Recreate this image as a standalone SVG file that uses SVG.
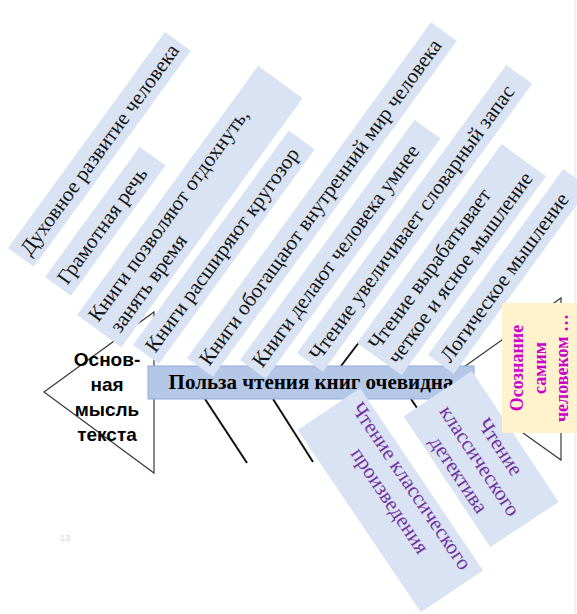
<svg xmlns="http://www.w3.org/2000/svg" width="577" height="614" viewBox="0 0 577 614">
<style>
.bx{fill:#DAE3F3;}
.t{font-family:"Liberation Serif","Times New Roman",serif;font-size:21px;fill:#141414;}
.pt{font-family:"Liberation Serif","Times New Roman",serif;font-size:21px;fill:#7030A0;text-anchor:middle;}
.tri{fill:none;stroke:#3a3a3a;stroke-width:1.2;}
.bone{stroke:#111;stroke-width:2;fill:none;}
</style>
<rect x="0" y="0" width="577" height="614" fill="#ffffff"/>
<line x1="575" y1="0" x2="575" y2="614" stroke="#e2e2e2" stroke-width="1"/>
<g id="tail">
<polygon class="tri" points="44,392 154,312 154,473"/>
</g>
<g id="head">
<polygon class="tri" points="447,379 561,298 561,460"/>
</g>
<g id="connectors">
<line class="bone" x1="205" y1="399" x2="247" y2="463"/>
<line class="bone" x1="273" y1="399" x2="313" y2="462"/>
<line class="bone" x1="411" y1="399" x2="440" y2="442"/>
<line class="bone" x1="341" y1="366" x2="360" y2="341"/>
</g>
<g id="main">
<rect x="148" y="366" width="326" height="33" fill="#B4C7E7" stroke="#8FAADC" stroke-width="1"/>
<text x="311" y="389" text-anchor="middle" style="font-family:'Liberation Serif','Times New Roman',serif;font-size:21px;font-weight:bold;fill:#000">Польза чтения книг очевидна</text>
</g>
<g id="tail-label">
<text style="font-family:'Liberation Sans',Arial,sans-serif;font-size:19px;font-weight:bold;fill:#000" text-anchor="middle">
<tspan x="107" y="366">Основ-</tspan><tspan x="107" y="391">ная</tspan><tspan x="107" y="416">мысль</tspan><tspan x="107" y="441">текста</tspan>
</text>
</g>
<g id="b1" transform="translate(8,248) rotate(-54)"><rect class="bx" width="267" height="32"/><text class="t" x="6" y="23">Духовное развитие человека</text></g>
<g id="b2" transform="translate(45,277) rotate(-54)"><rect class="bx" width="161" height="32"/><text class="t" x="6" y="23">Грамотная речь</text></g>
<g id="b3" transform="translate(77,315) rotate(-54)"><rect class="bx" width="308" height="55"/><text class="t" x="6" y="22">Книги позволяют отдохнуть,</text><text class="t" x="10" y="46">занять время</text></g>
<g id="b4" transform="translate(133,345) rotate(-54)"><rect class="bx" width="265" height="32"/><text class="t" x="6" y="23">Книги расширяют кругозор</text></g>
<g id="b5" transform="translate(187,358) rotate(-54)"><rect class="bx" width="415" height="32"/><text class="t" x="6" y="23">Книги обогащают внутренний мир человека</text></g>
<g id="b6" transform="translate(240,360) rotate(-54)"><rect class="bx" width="297" height="32"/><text class="t" x="6" y="23">Книги делают человека умнее</text></g>
<g id="b7" transform="translate(297,353) rotate(-54)"><rect class="bx" width="356" height="32"/><text class="t" x="6" y="23">Чтение увеличивает словарный запас</text></g>
<g id="b8" transform="translate(357,343) rotate(-54)"><rect class="bx" width="246" height="55"/><text class="t" x="6" y="22">Чтение вырабатывает</text><text class="t" x="6" y="46">четкое и ясное мышление</text></g>
<g id="b9" transform="translate(428,355) rotate(-54)"><rect class="bx" width="230" height="32"/><text class="t" x="6" y="23">Логическое мышление</text></g>
<g id="p1" transform="translate(360,388) rotate(56)"><rect class="bx" width="220" height="75"/><text class="pt" x="110" y="19">Чтение классического</text><text class="pt" x="110" y="45">произведения</text></g>
<g id="p2" transform="translate(472,371) rotate(56.5)"><rect class="bx" width="157" height="82"/><text class="pt" x="79" y="25">Чтение</text><text class="pt" x="79" y="50">классического</text><text class="pt" x="79" y="75">детектива</text></g>
<g id="head-label">
<rect x="502" y="303" width="75" height="130" fill="#FFF2CC"/>
<g style="font-family:'Liberation Serif','Times New Roman',serif;font-size:18px;font-weight:bold;fill:#CC00CC" text-anchor="middle">
<text transform="translate(523,368) rotate(-90)">Осознание</text>
<text transform="translate(546,368) rotate(-90)">самим</text>
<text transform="translate(568,368) rotate(-90)">человеком …</text>
</g>
</g>
<text x="60" y="541" style="font-family:'Liberation Sans',Arial,sans-serif;font-size:9px;fill:#d6d6d6">13</text>
</svg>
